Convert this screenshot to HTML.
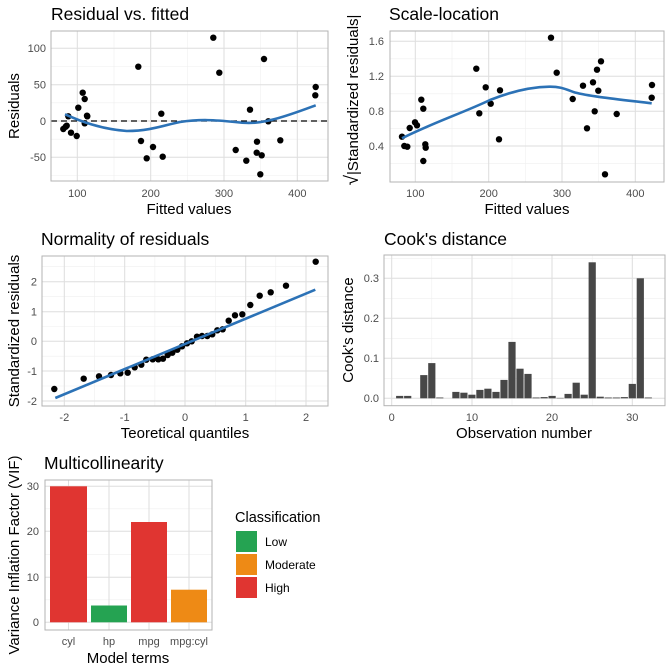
<!DOCTYPE html>
<html><head><meta charset="utf-8"><style>
html,body{margin:0;padding:0;background:#fff;}
svg{display:block;font-family:"Liberation Sans",Arial,sans-serif;}
.t{font-size:17.5px;fill:#000;}
.at{font-size:15px;fill:#000;}
.tk{font-size:11px;fill:#4D4D4D;}
.mj{stroke:#DEDEDE;stroke-width:1;}
.mn{stroke:#EFEFEF;stroke-width:0.6;}
.bd{fill:none;stroke:#B3B3B3;stroke-width:1;}
circle{r:3.2px;}
</style></head><body>
<svg width="672" height="672" viewBox="0 0 672 672" xmlns="http://www.w3.org/2000/svg">
<rect width="672" height="672" fill="#fff"/>

<!-- Panel 1 -->
<g>
<line class="mn" x1="114" y1="31" x2="114" y2="181"/><line class="mn" x1="187.3" y1="31" x2="187.3" y2="181"/><line class="mn" x1="260.7" y1="31" x2="260.7" y2="181"/>
<line class="mn" x1="51" y1="66.5" x2="328" y2="66.5"/><line class="mn" x1="51" y1="102.8" x2="328" y2="102.8"/><line class="mn" x1="51" y1="139.2" x2="328" y2="139.2"/><line class="mn" x1="51" y1="175.5" x2="328" y2="175.5"/>
<line class="mj" x1="77.3" y1="31" x2="77.3" y2="181"/><line class="mj" x1="150.7" y1="31" x2="150.7" y2="181"/><line class="mj" x1="224" y1="31" x2="224" y2="181"/><line class="mj" x1="297.3" y1="31" x2="297.3" y2="181"/>
<line class="mj" x1="51" y1="48.3" x2="328" y2="48.3"/><line class="mj" x1="51" y1="84.7" x2="328" y2="84.7"/><line class="mj" x1="51" y1="121" x2="328" y2="121"/><line class="mj" x1="51" y1="157.3" x2="328" y2="157.3"/>
<line x1="51" y1="121" x2="328" y2="121" stroke="#000" stroke-width="1.2" stroke-dasharray="6,4"/>
<g fill="#000">
<circle cx="63.3" cy="129" r="3.2"/><circle cx="65.7" cy="126.7" r="3.2"/><circle cx="66.7" cy="125.7" r="3.2"/><circle cx="68.3" cy="116.3" r="3.2"/><circle cx="71" cy="132.7" r="3.2"/><circle cx="76.7" cy="136" r="3.2"/><circle cx="78.3" cy="107.7" r="3.2"/><circle cx="82.7" cy="92.7" r="3.2"/><circle cx="84.7" cy="99" r="3.2"/><circle cx="84.7" cy="123.3" r="3.2"/><circle cx="87" cy="115.7" r="3.2"/><circle cx="87.3" cy="116.3" r="3.2"/><circle cx="138.3" cy="66.7" r="3.2"/><circle cx="141" cy="141" r="3.2"/><circle cx="146.7" cy="158.3" r="3.2"/><circle cx="153" cy="147" r="3.2"/><circle cx="161.3" cy="113.7" r="3.2"/><circle cx="162.7" cy="156.7" r="3.2"/><circle cx="213.3" cy="37.7" r="3.2"/><circle cx="219.3" cy="72.7" r="3.2"/><circle cx="235.7" cy="150" r="3.2"/><circle cx="246.3" cy="160.7" r="3.2"/><circle cx="250" cy="109.7" r="3.2"/><circle cx="257" cy="141.7" r="3.2"/><circle cx="256.7" cy="152.7" r="3.2"/><circle cx="261.7" cy="155.3" r="3.2"/><circle cx="260.3" cy="174.3" r="3.2"/><circle cx="264" cy="59" r="3.2"/><circle cx="268.3" cy="121.3" r="3.2"/><circle cx="280.3" cy="140.3" r="3.2"/><circle cx="315.7" cy="87" r="3.2"/><circle cx="315.3" cy="95.3" r="3.2"/>
</g>
<path fill="none" stroke="#2C72B6" stroke-width="2.6" stroke-linejoin="round" d="M65,114.3 C80,121 100,129 126.7,131 C150,131 165,125 180,122 C200,119 215,120 235,122 C250,124 260,123 275,119 C290,115 303,110 315.7,105.3"/>
<rect class="bd" x="51" y="31" width="277" height="150"/>
<g class="tk" text-anchor="end"><text x="46" y="52">100</text><text x="46" y="88.5">50</text><text x="46" y="125">0</text><text x="46" y="161">-50</text></g>
<g class="tk" text-anchor="middle"><text x="77.3" y="197">100</text><text x="150.7" y="197">200</text><text x="224" y="197">300</text><text x="297.3" y="197">400</text></g>
<text class="at" x="189" y="214" text-anchor="middle">Fitted values</text>
<text class="at" transform="translate(19,106) rotate(-90)" text-anchor="middle">Residuals</text>
<text class="t" x="51" y="20">Residual vs. fitted</text>
</g>

<!-- Panel 2 -->
<g>
<line class="mn" x1="452" y1="31" x2="452" y2="182"/><line class="mn" x1="525.3" y1="31" x2="525.3" y2="182"/><line class="mn" x1="598.7" y1="31" x2="598.7" y2="182"/>
<line class="mn" x1="390" y1="58.8" x2="664" y2="58.8"/><line class="mn" x1="390" y1="93.8" x2="664" y2="93.8"/><line class="mn" x1="390" y1="128.7" x2="664" y2="128.7"/><line class="mn" x1="390" y1="163.7" x2="664" y2="163.7"/>
<line class="mj" x1="415.3" y1="31" x2="415.3" y2="182"/><line class="mj" x1="488.7" y1="31" x2="488.7" y2="182"/><line class="mj" x1="562" y1="31" x2="562" y2="182"/><line class="mj" x1="635.3" y1="31" x2="635.3" y2="182"/>
<line class="mj" x1="390" y1="41.3" x2="664" y2="41.3"/><line class="mj" x1="390" y1="76.3" x2="664" y2="76.3"/><line class="mj" x1="390" y1="111.3" x2="664" y2="111.3"/><line class="mj" x1="390" y1="146" x2="664" y2="146"/>
<g fill="#000">
<circle cx="402" cy="136.7" r="3.2"/><circle cx="404.3" cy="146" r="3.2"/><circle cx="407.3" cy="146.7" r="3.2"/><circle cx="409.7" cy="128" r="3.2"/><circle cx="415" cy="122.3" r="3.2"/><circle cx="417" cy="125.3" r="3.2"/><circle cx="421.3" cy="99.7" r="3.2"/><circle cx="423.3" cy="108.7" r="3.2"/><circle cx="423.3" cy="161" r="3.2"/><circle cx="425.3" cy="144.3" r="3.2"/><circle cx="425.7" cy="147.7" r="3.2"/><circle cx="476.3" cy="68.7" r="3.2"/><circle cx="479.3" cy="113.3" r="3.2"/><circle cx="485.7" cy="87.3" r="3.2"/><circle cx="490.7" cy="103.7" r="3.2"/><circle cx="499" cy="139.3" r="3.2"/><circle cx="500" cy="90.3" r="3.2"/><circle cx="551" cy="37.7" r="3.2"/><circle cx="556.7" cy="72.7" r="3.2"/><circle cx="572.7" cy="99" r="3.2"/><circle cx="583" cy="85.7" r="3.2"/><circle cx="587" cy="128.3" r="3.2"/><circle cx="593" cy="82.3" r="3.2"/><circle cx="594.7" cy="111.3" r="3.2"/><circle cx="597" cy="69.7" r="3.2"/><circle cx="598.3" cy="90.7" r="3.2"/><circle cx="601" cy="61.3" r="3.2"/><circle cx="605" cy="174.3" r="3.2"/><circle cx="616.7" cy="114" r="3.2"/><circle cx="652" cy="85" r="3.2"/><circle cx="651.7" cy="97.7" r="3.2"/>
</g>
<path fill="none" stroke="#2C72B6" stroke-width="2.6" d="M402,138.3 C430,124 465,112 490,100 C510,92 530,87 549.3,86.7 C560,86.5 565,89 575,92.5 C590,96.5 620,99.5 651.7,103.3"/>
<rect class="bd" x="390" y="31" width="274" height="151"/>
<g class="tk" text-anchor="end"><text x="384" y="45">1.6</text><text x="384" y="80">1.2</text><text x="384" y="115">0.8</text><text x="384" y="150">0.4</text></g>
<g class="tk" text-anchor="middle"><text x="415.3" y="197">100</text><text x="488.7" y="197">200</text><text x="562" y="197">300</text><text x="635.3" y="197">400</text></g>
<text class="at" x="527" y="214" text-anchor="middle">Fitted values</text>
<text class="at" transform="translate(358,100) rotate(-90)" text-anchor="middle"><tspan font-size="19">√</tspan>|Standardized residuals|</text>
<text class="t" x="389" y="20">Scale-location</text>
</g>

<!-- Panel 3 -->
<g>
<line class="mn" x1="94.5" y1="256" x2="94.5" y2="406"/><line class="mn" x1="154.9" y1="256" x2="154.9" y2="406"/><line class="mn" x1="215.3" y1="256" x2="215.3" y2="406"/><line class="mn" x1="275.8" y1="256" x2="275.8" y2="406"/>
<line class="mn" x1="42" y1="266.7" x2="328" y2="266.7"/><line class="mn" x1="42" y1="296.7" x2="328" y2="296.7"/><line class="mn" x1="42" y1="326.5" x2="328" y2="326.5"/><line class="mn" x1="42" y1="356.2" x2="328" y2="356.2"/><line class="mn" x1="42" y1="386" x2="328" y2="386"/>
<line class="mj" x1="64.3" y1="256" x2="64.3" y2="406"/><line class="mj" x1="124.7" y1="256" x2="124.7" y2="406"/><line class="mj" x1="185" y1="256" x2="185" y2="406"/><line class="mj" x1="245.7" y1="256" x2="245.7" y2="406"/><line class="mj" x1="306" y1="256" x2="306" y2="406"/>
<line class="mj" x1="42" y1="281.7" x2="328" y2="281.7"/><line class="mj" x1="42" y1="311.7" x2="328" y2="311.7"/><line class="mj" x1="42" y1="341.3" x2="328" y2="341.3"/><line class="mj" x1="42" y1="371" x2="328" y2="371"/><line class="mj" x1="42" y1="401" x2="328" y2="401"/>
<g fill="#000">
<circle cx="54.3" cy="389" r="3.2"/><circle cx="83.7" cy="378.7" r="3.2"/><circle cx="99" cy="376.3" r="3.2"/><circle cx="111" cy="375" r="3.2"/><circle cx="120.3" cy="373.3" r="3.2"/><circle cx="127.7" cy="372.7" r="3.2"/><circle cx="134.7" cy="367.3" r="3.2"/><circle cx="141.3" cy="364.7" r="3.2"/><circle cx="146.3" cy="359.7" r="3.2"/><circle cx="152.7" cy="359.3" r="3.2"/><circle cx="158.3" cy="359.3" r="3.2"/><circle cx="163" cy="358.7" r="3.2"/><circle cx="167.7" cy="355" r="3.2"/><circle cx="172.3" cy="352.7" r="3.2"/><circle cx="177.3" cy="349.7" r="3.2"/><circle cx="182" cy="346.3" r="3.2"/><circle cx="187" cy="343.3" r="3.2"/><circle cx="191.7" cy="341.3" r="3.2"/><circle cx="197" cy="336.7" r="3.2"/><circle cx="202" cy="336" r="3.2"/><circle cx="207.3" cy="336" r="3.2"/><circle cx="212.3" cy="334.3" r="3.2"/><circle cx="217.3" cy="330.3" r="3.2"/><circle cx="222.7" cy="329.3" r="3.2"/><circle cx="228.7" cy="320.7" r="3.2"/><circle cx="235" cy="315.3" r="3.2"/><circle cx="242.3" cy="314.3" r="3.2"/><circle cx="250.3" cy="305" r="3.2"/><circle cx="259.7" cy="295.7" r="3.2"/><circle cx="270.7" cy="292.3" r="3.2"/><circle cx="286" cy="285.7" r="3.2"/><circle cx="315.7" cy="261.7" r="3.2"/>
</g>
<line x1="55.3" y1="398" x2="315.3" y2="289.7" stroke="#2C72B6" stroke-width="2.6"/>
<rect class="bd" x="42" y="256" width="286" height="150"/>
<g class="tk" text-anchor="end"><text x="37" y="285.5">2</text><text x="37" y="315.5">1</text><text x="37" y="345">0</text><text x="37" y="375">-1</text><text x="37" y="405">-2</text></g>
<g class="tk" text-anchor="middle"><text x="64.3" y="421">-2</text><text x="124.7" y="421">-1</text><text x="185" y="421">0</text><text x="245.7" y="421">1</text><text x="306" y="421">2</text></g>
<text class="at" x="185" y="438" text-anchor="middle">Teoretical quantiles</text>
<text class="at" transform="translate(19,331) rotate(-90)" text-anchor="middle">Standardized residuals</text>
<text class="t" x="41" y="245">Normality of residuals</text>
</g>

<!-- Panel 4 -->
<g>
<line class="mn" x1="431.8" y1="255" x2="431.8" y2="405.7"/><line class="mn" x1="512" y1="255" x2="512" y2="405.7"/><line class="mn" x1="592.2" y1="255" x2="592.2" y2="405.7"/>
<line class="mn" x1="384" y1="258.3" x2="665" y2="258.3"/><line class="mn" x1="384" y1="298.3" x2="665" y2="298.3"/><line class="mn" x1="384" y1="338.3" x2="665" y2="338.3"/><line class="mn" x1="384" y1="378.3" x2="665" y2="378.3"/>
<line class="mj" x1="391.7" y1="255" x2="391.7" y2="405.7"/><line class="mj" x1="472" y1="255" x2="472" y2="405.7"/><line class="mj" x1="552" y1="255" x2="552" y2="405.7"/><line class="mj" x1="632.3" y1="255" x2="632.3" y2="405.7"/>
<line class="mj" x1="384" y1="278.3" x2="665" y2="278.3"/><line class="mj" x1="384" y1="318.3" x2="665" y2="318.3"/><line class="mj" x1="384" y1="358.3" x2="665" y2="358.3"/><line class="mj" x1="384" y1="398.3" x2="665" y2="398.3"/>
<g fill="#474747">
<rect x="396.1" y="395.9" width="7.2" height="2.4"/><rect x="404.1" y="395.9" width="7.2" height="2.4"/>
<rect x="420.2" y="375.1" width="7.2" height="23.2"/><rect x="428.2" y="363.1" width="7.2" height="35.2"/><rect x="436.2" y="397.5" width="7.2" height="0.8"/>
<rect x="452.3" y="391.9" width="7.2" height="6.4"/><rect x="460.3" y="392.7" width="7.2" height="5.6"/><rect x="468.3" y="394.7" width="7.2" height="3.6"/><rect x="476.3" y="389.9" width="7.2" height="8.4"/><rect x="484.3" y="388.7" width="7.2" height="9.6"/><rect x="492.4" y="391.9" width="7.2" height="6.4"/><rect x="500.4" y="379.9" width="7.2" height="18.4"/><rect x="508.4" y="341.9" width="7.2" height="56.4"/><rect x="516.4" y="368.7" width="7.2" height="29.6"/><rect x="524.4" y="373.9" width="7.2" height="24.4"/><rect x="532.5" y="397.5" width="7.2" height="0.8"/><rect x="540.5" y="397.1" width="7.2" height="1.2"/><rect x="548.5" y="395.9" width="7.2" height="2.4"/><rect x="556.5" y="397.9" width="7.2" height="0.4"/><rect x="564.5" y="393.9" width="7.2" height="4.4"/><rect x="572.6" y="382.7" width="7.2" height="15.6"/><rect x="580.6" y="394.7" width="7.2" height="3.6"/><rect x="588.6" y="262.3" width="7.2" height="136"/><rect x="596.6" y="396.7" width="7.2" height="1.6"/><rect x="604.6" y="397.5" width="7.2" height="0.8"/><rect x="612.7" y="397.5" width="7.2" height="0.8"/><rect x="620.7" y="397.1" width="7.2" height="1.2"/><rect x="628.7" y="383.9" width="7.2" height="14.4"/><rect x="636.7" y="278.3" width="7.2" height="120"/><rect x="644.7" y="397.5" width="7.2" height="0.8"/>
</g>
<rect class="bd" x="384" y="255" width="281" height="150.7"/>
<g class="tk" text-anchor="end"><text x="379" y="282">0.3</text><text x="379" y="322">0.2</text><text x="379" y="362">0.1</text><text x="379" y="402">0.0</text></g>
<g class="tk" text-anchor="middle"><text x="391.7" y="421">0</text><text x="472" y="421">10</text><text x="552" y="421">20</text><text x="632.3" y="421">30</text></g>
<text class="at" x="524" y="438" text-anchor="middle">Observation number</text>
<text class="at" transform="translate(353,330) rotate(-90)" text-anchor="middle">Cook's distance</text>
<text class="t" x="384" y="245">Cook's distance</text>
</g>

<!-- Panel 5 -->
<g>
<line class="mn" x1="45" y1="508.8" x2="212" y2="508.8"/><line class="mn" x1="45" y1="554.3" x2="212" y2="554.3"/><line class="mn" x1="45" y1="599.8" x2="212" y2="599.8"/>
<line class="mj" x1="68.5" y1="480" x2="68.5" y2="630"/><line class="mj" x1="109" y1="480" x2="109" y2="630"/><line class="mj" x1="149" y1="480" x2="149" y2="630"/><line class="mj" x1="189" y1="480" x2="189" y2="630"/>
<line class="mj" x1="45" y1="486.3" x2="212" y2="486.3"/><line class="mj" x1="45" y1="531.3" x2="212" y2="531.3"/><line class="mj" x1="45" y1="577.3" x2="212" y2="577.3"/><line class="mj" x1="45" y1="622.3" x2="212" y2="622.3"/>
<rect x="50" y="486.3" width="37" height="136" fill="#E03531"/>
<rect x="91" y="605.5" width="36" height="16.8" fill="#25A352"/>
<rect x="131" y="522" width="36" height="100.3" fill="#E03531"/>
<rect x="171" y="589.7" width="36" height="32.6" fill="#EE8A15"/>
<rect class="bd" x="45" y="480" width="167" height="150"/>
<g class="tk" text-anchor="end"><text x="39" y="490">30</text><text x="39" y="535">20</text><text x="39" y="581">10</text><text x="39" y="626">0</text></g>
<g class="tk" text-anchor="middle"><text x="68.5" y="645">cyl</text><text x="109" y="645">hp</text><text x="149" y="645">mpg</text><text x="189" y="645">mpg:cyl</text></g>
<text class="at" x="128" y="663" text-anchor="middle">Model terms</text>
<text class="at" transform="translate(19,555) rotate(-90)" text-anchor="middle">Variance Inflation Factor (VIF)</text>
<text class="t" x="44" y="469">Multicollinearity</text>
<text style="font-size:14.5px" x="235" y="522">Classification</text>
<rect x="236" y="531" width="21" height="21" fill="#25A352"/>
<rect x="236" y="554" width="21" height="21" fill="#EE8A15"/>
<rect x="236" y="577" width="21" height="21" fill="#E03531"/>
<g style="font-size:12px" fill="#000"><text x="265" y="546">Low</text><text x="265" y="569">Moderate</text><text x="265" y="592">High</text></g>
</g>
</svg>
</body></html>
